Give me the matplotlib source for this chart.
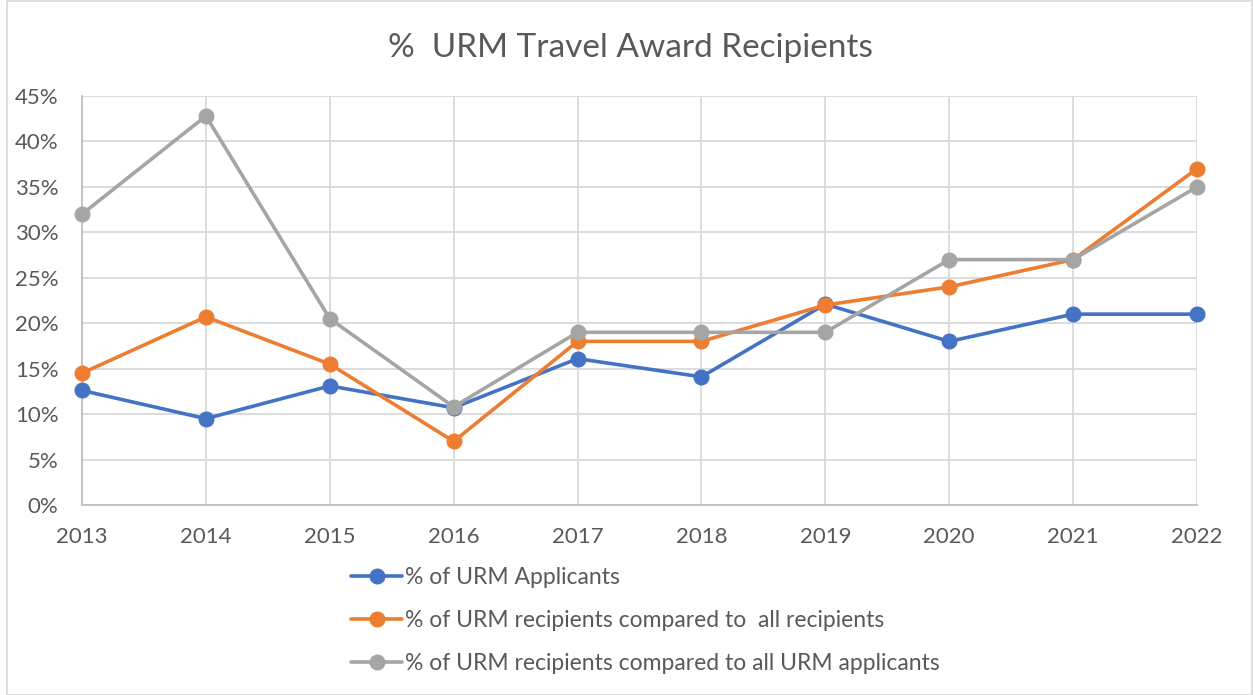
import matplotlib
matplotlib.use("Agg")
import matplotlib.pyplot as plt
from matplotlib.patches import Rectangle
from matplotlib.ticker import FuncFormatter

plt.rcParams['font.family'] = ['Lato', 'DejaVu Sans']

years = [2013, 2014, 2015, 2016, 2017, 2018, 2019, 2020, 2021, 2022]
urm_applicants = [12.6, 9.5, 13.1, 10.7, 16.1, 14.1, 22.1, 18.0, 21.0, 21.0]
urm_vs_all_recipients = [14.5, 20.7, 15.5, 7.0, 18.0, 18.0, 22.0, 24.0, 27.0, 37.0]
urm_vs_urm_applicants = [32.0, 42.8, 20.5, 10.8, 19.0, 19.0, 19.0, 27.0, 27.0, 35.0]
labels = ["% of URM Applicants",
          "% of URM recipients compared to  all recipients",
          "% of URM recipients compared to all URM applicants"]
title = "%  URM Travel Award Recipients"
yticks = [0, 5, 10, 15, 20, 25, 30, 35, 40, 45]

colors = ["#4472C4", "#ED7D31", "#A5A5A5"]
text_color = "#595959"

W, H = 1253, 695
fig = plt.figure(figsize=(W / 100, H / 100), dpi=100)
ax = fig.add_axes([82 / W, 1 - 505 / H, (1197 - 82) / W, (505 - 96) / H])

series = [urm_applicants, urm_vs_all_recipients, urm_vs_urm_applicants]
for vals, c, lab in zip(series, colors, labels):
    ax.plot(years, vals, color=c, lw=2.6, marker='o', markersize=10.5, label=lab,
            solid_capstyle='round', zorder=3, clip_on=False)

ax.set_xlim(years[0], years[-1])
ax.set_ylim(0, 45)
ax.set_xticks(years)
ax.set_yticks(yticks)
ax.yaxis.set_major_formatter(FuncFormatter(lambda v, p: f"{int(v)}%"))
ax.grid(True, color="#D9D9D9", lw=1.3, zorder=0)
ax.set_axisbelow(True)
for s in ['top', 'right']:
    ax.spines[s].set_visible(False)
for s in ['left', 'bottom']:
    ax.spines[s].set_color("#BFBFBF")
    ax.spines[s].set_linewidth(1.3)
ax.tick_params(length=0, labelsize=16, colors=text_color)
ax.tick_params(axis='x', pad=16)
ax.tick_params(axis='y', pad=17)

fig.text(630 / W, 1 - 48 / H, title, ha='center', va='center', fontsize=24, color=text_color)

handles, labs = ax.get_legend_handles_labels()
leg = fig.legend(handles, labs, loc='upper left', bbox_to_anchor=(340 / W, 1 - 556 / H),
                 frameon=False, fontsize=16.5, handlelength=2.2, handletextpad=0.15,
                 labelspacing=0.95, labelcolor=text_color, borderpad=0)

fig.patches.append(Rectangle((7 / W, 0), 1 - 8 / W, 1 - 1 / H, transform=fig.transFigure,
                             fill=False, edgecolor="#D9D9D9", lw=1.2))

fig.savefig("out.png", dpi=100, facecolor="white")
